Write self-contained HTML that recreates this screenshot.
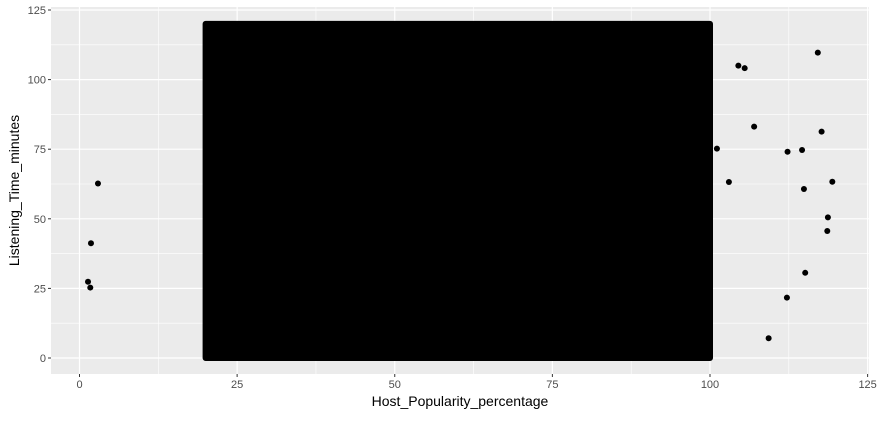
<!DOCTYPE html>
<html><head><meta charset="utf-8"><style>
body{margin:0;background:#fff;}
svg text{font-family:"Liberation Sans",Arial,sans-serif;}
</style></head><body>
<svg id="chart" width="877" height="417" xmlns="http://www.w3.org/2000/svg"></svg>
<script>
const xTicks=[0,25,50,75,100,125];
const yTicks=[0,25,50,75,100,125];
const denseXRange=[20,100];
const denseYRange=[0,120];
const outlierX=[2.93,1.82,1.35,1.71,117.1,104.5,105.5,107.0,117.7,101.1,112.3,114.6,103.0,119.4,114.9,118.7,118.6,115.1,112.2,109.3];
const outlierY=[62.7,41.2,27.4,25.3,109.7,105.0,104.1,83.1,81.3,75.2,74.1,74.7,63.2,63.3,60.7,50.5,45.6,30.6,21.7,7.1];

const NS="http://www.w3.org/2000/svg";
const svg=document.getElementById('chart');
const P={l:51,r:869,t:7,b:374};
const xs=v=>79.5+(v-0)*6.305;
const ys=v=>358-(v-0)*2.784;
function mk(tag,attrs,parent){const e=document.createElementNS(NS,tag);for(const k in attrs)e.setAttribute(k,attrs[k]);(parent||svg).appendChild(e);return e;}

const panel=mk('rect',{x:P.l,y:P.t,width:P.r-P.l,height:P.b-P.t,fill:'#ebebeb'});



const grid=mk('g',{});


for(let i=0;i<xTicks.length-1;i++){const m=(xTicks[i]+xTicks[i+1])/2;mk('line',{x1:xs(m),x2:xs(m),y1:P.t,y2:P.b,stroke:'#fff','stroke-width':0.6},grid);}
for(let i=0;i<yTicks.length-1;i++){const m=(yTicks[i]+yTicks[i+1])/2;mk('line',{x1:P.l,x2:P.r,y1:ys(m),y2:ys(m),stroke:'#fff','stroke-width':0.6},grid);}
xTicks.forEach(t=>mk('line',{x1:xs(t),x2:xs(t),y1:P.t,y2:P.b,stroke:'#fff','stroke-width':1.2},grid));
yTicks.forEach(t=>mk('line',{x1:P.l,x2:P.r,y1:ys(t),y2:ys(t),stroke:'#fff','stroke-width':1.2},grid));

const dense=mk('rect',{x:xs(denseXRange[0]),y:ys(denseYRange[1]),width:xs(denseXRange[1])-xs(denseXRange[0]),height:ys(denseYRange[0])-ys(denseYRange[1]),fill:'#000',stroke:'#000','stroke-width':6,'stroke-linejoin':'round'});



outlierX.forEach((x,i)=>{
  const c=mk('circle',{cx:xs(x),cy:ys(outlierY[i]),r:3,fill:'#000'});
  
  
});

xTicks.forEach(t=>{
  mk('line',{x1:xs(t),x2:xs(t),y1:P.b,y2:P.b+3,stroke:'#333','stroke-width':1});
  const tx=mk('text',{x:xs(t),y:P.b+14,'text-anchor':'middle','font-size':11,fill:'#4d4d4d'});
  tx.textContent=t;
  
  
});
yTicks.forEach(t=>{
  mk('line',{x1:P.l-3,x2:P.l,y1:ys(t),y2:ys(t),stroke:'#333','stroke-width':1});
  const tx=mk('text',{x:P.l-5,y:ys(t)+4,'text-anchor':'end','font-size':11,fill:'#4d4d4d'});
  tx.textContent=t;
  
  
});

const xt=mk('text',{x:(P.l+P.r)/2,y:406,'text-anchor':'middle','font-size':14,fill:'#000'});
xt.textContent='Host_Popularity_percentage';


const yt=mk('text',{x:0,y:0,'text-anchor':'middle','font-size':14,fill:'#000',transform:`translate(19,${(P.t+P.b)/2}) rotate(-90)`});
yt.textContent='Listening_Time_minutes';


</script>
</body></html>
